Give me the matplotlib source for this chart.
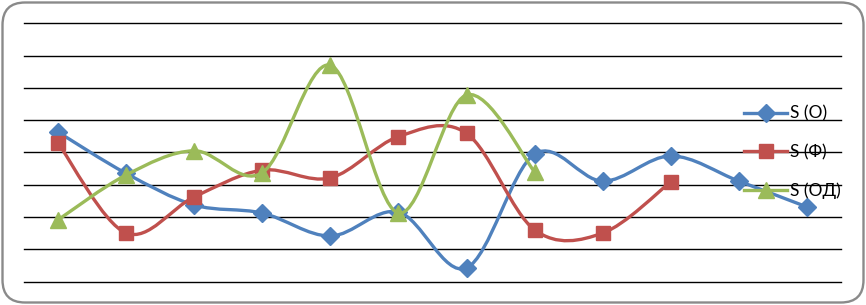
import numpy as np
import matplotlib
matplotlib.use("Agg")
import matplotlib.pyplot as plt
from matplotlib.path import Path
from matplotlib.patches import PathPatch, FancyBboxPatch
from matplotlib.lines import Line2D

categories = list(range(1, 13))
s_o = [4.63, 3.35, 2.37, 2.12, 1.41, 2.15, 0.42, 3.95, 3.11, 3.89, 3.11, 2.31]
s_f = [4.29, 1.50, 2.62, 3.45, 3.21, 4.49, 4.59, 1.60, 1.50, 3.09]
s_od = [1.91, 3.30, 4.05, 3.37, 6.70, 2.12, 5.78, 3.40]
labels = ["S (O)", "S (Ф)", "S (ОД)"]

colors = ["#4F81BD", "#C0504D", "#9BBB59"]
markers = ["D", "s", "^"]
msizes = [9, 10, 11]


def smooth_path(xs, ys):
    # Excel-style smoothing: cubic Bezier with Catmull-Rom control points
    pts = np.column_stack([xs, ys]).astype(float)
    n = len(pts)
    verts = [pts[0]]
    codes = [Path.MOVETO]
    for i in range(n - 1):
        p0 = pts[i - 1] if i > 0 else pts[i]
        p1 = pts[i]
        p2 = pts[i + 1]
        p3 = pts[i + 2] if i + 2 < n else pts[i + 1]
        c1 = p1 + (p2 - p0) / 6.0
        c2 = p2 - (p3 - p1) / 6.0
        verts += [c1, c2, p2]
        codes += [Path.CURVE4] * 3
    return Path(verts, codes)


W, H = 866, 305
fig = plt.figure(figsize=(W / 100, H / 100), dpi=100)

frame = FancyBboxPatch((2.5 / W, 2.5 / H), (W - 5) / W, (H - 5) / H,
                       boxstyle="round,pad=0,rounding_size=0.026",
                       transform=fig.transFigure, facecolor="white",
                       edgecolor="#8a8a8a", linewidth=1.7,
                       mutation_aspect=W / H, zorder=-1)
fig.patches.append(frame)

ax = fig.add_axes([24 / W, (H - 281.5) / H, 817 / W, (281.5 - 23.3) / H])
ax.set_facecolor("none")
ax.set_xlim(0.5, 12.5)
ax.set_ylim(0, 8)
for v in range(0, 9):
    ax.axhline(v, color="black", linewidth=1.0, zorder=1, clip_on=False)
for sp in ax.spines.values():
    sp.set_visible(False)
ax.set_xticks([])
ax.set_yticks([])

handles = []
for k, series in enumerate([s_o, s_f, s_od]):
    xs = categories[:len(series)]
    patch = PathPatch(smooth_path(xs, series), facecolor="none",
                      edgecolor=colors[k], linewidth=2.4,
                      capstyle="round", joinstyle="round", zorder=2 + k)
    ax.add_patch(patch)
    ax.plot(xs, series, linestyle="none", marker=markers[k],
            markersize=msizes[k], color=colors[k], zorder=2 + k,
            clip_on=False)
    handles.append(Line2D([], [], color=colors[k], linewidth=2.4,
                          marker=markers[k], markersize=msizes[k]))

fig.legend(handles, labels, loc="center left",
           bbox_to_anchor=(744 / W, 1 - 152.5 / H), frameon=False,
           handlelength=2.5, handletextpad=0.15,
           labelspacing=1.3, borderpad=0, borderaxespad=0,
           prop={"family": "Lato", "size": 12.5})

fig.savefig("out.png", dpi=100)
